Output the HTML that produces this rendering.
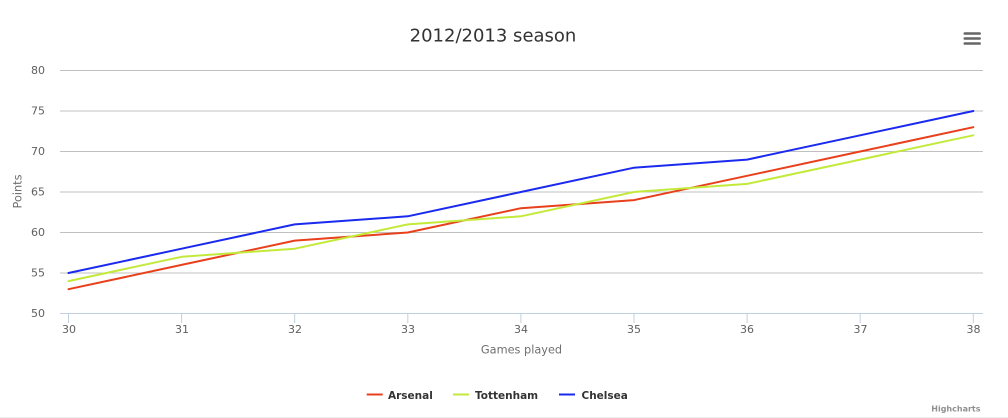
<!DOCTYPE html>
<html>
<head>
<meta charset="utf-8">
<style>
html,body{margin:0;padding:0;background:#fff;}
svg{display:block;}
text{font-family:"DejaVu Sans","Liberation Sans",sans-serif;}
</style>
</head>
<body>
<svg width="1008" height="418" viewBox="0 0 1008 418" xmlns="http://www.w3.org/2000/svg">
  <rect x="0" y="0" width="1008" height="418" fill="#ffffff"/>
  <!-- title -->
  <text x="493" y="41.5" text-anchor="middle" font-size="18" fill="#333333">2012/2013 season</text>
  <!-- menu icon -->
  <g stroke="#666666" stroke-width="2.6" stroke-linecap="round">
    <line x1="964.8" y1="33.5" x2="979.6" y2="33.5"/>
    <line x1="964.8" y1="38.5" x2="979.6" y2="38.5"/>
    <line x1="964.8" y1="43.5" x2="979.6" y2="43.5"/>
  </g>
  <!-- gridlines -->
  <g stroke="#c0c0c0" stroke-width="1">
    <line x1="60" y1="70.5" x2="983" y2="70.5"/>
    <line x1="60" y1="111" x2="983" y2="111"/>
    <line x1="60" y1="151.5" x2="983" y2="151.5"/>
    <line x1="60" y1="192" x2="983" y2="192"/>
    <line x1="60" y1="232.5" x2="983" y2="232.5"/>
    <line x1="60" y1="273" x2="983" y2="273"/>
  </g>
  <!-- x axis line -->
  <line x1="60" y1="313.5" x2="983" y2="313.5" stroke="#c0d0e0" stroke-width="1"/>
  <g stroke="#c0d0e0" stroke-width="1">
    <line x1="68.5" y1="313.5" x2="68.5" y2="323"/>
    <line x1="181.6" y1="313.5" x2="181.6" y2="323"/>
    <line x1="294.7" y1="313.5" x2="294.7" y2="323"/>
    <line x1="407.8" y1="313.5" x2="407.8" y2="323"/>
    <line x1="520.9" y1="313.5" x2="520.9" y2="323"/>
    <line x1="634" y1="313.5" x2="634" y2="323"/>
    <line x1="747.1" y1="313.5" x2="747.1" y2="323"/>
    <line x1="860.2" y1="313.5" x2="860.2" y2="323"/>
    <line x1="973.3" y1="313.5" x2="973.3" y2="323"/>
  </g>
  <!-- y labels -->
  <g font-size="11" fill="#606060" text-anchor="end">
    <text x="45" y="74">80</text>
    <text x="45" y="114.5">75</text>
    <text x="45" y="155">70</text>
    <text x="45" y="195.5">65</text>
    <text x="45" y="236">60</text>
    <text x="45" y="276.5">55</text>
    <text x="45" y="317">50</text>
  </g>
  <!-- x labels -->
  <g font-size="11" fill="#606060" text-anchor="middle">
    <text x="69" y="333">30</text>
    <text x="182" y="333">31</text>
    <text x="295" y="333">32</text>
    <text x="408" y="333">33</text>
    <text x="521" y="333">34</text>
    <text x="634" y="333">35</text>
    <text x="747" y="333">36</text>
    <text x="860.5" y="333">37</text>
    <text x="973.5" y="333">38</text>
  </g>
  <!-- axis titles -->
  <text x="521.5" y="353.5" text-anchor="middle" font-size="11.3" fill="#707070">Games played</text>
  <text transform="translate(21.5,191.5) rotate(-90)" text-anchor="middle" font-size="11.3" fill="#707070">Points</text>
  <!-- series -->
  <g fill="none" stroke-width="2" stroke-linejoin="round" stroke-linecap="round">
    <polyline stroke="#e8401c" points="68.5,289.2 181.6,264.9 294.7,240.6 407.8,232.5 520.9,208.2 634,200.1 747.1,175.8 860.2,151.5 973.3,127.2"/>
    <polyline stroke="#c3ea3a" points="68.5,281.1 181.6,256.8 294.7,248.7 407.8,224.4 520.9,216.3 634,192 747.1,183.9 860.2,159.6 973.3,135.3"/>
    <polyline stroke="#1a2aee" points="68.5,273 181.6,248.7 294.7,224.4 407.8,216.3 520.9,192 634,167.7 747.1,159.6 860.2,135.3 973.3,111"/>
  </g>
  <!-- legend -->
  <g stroke-width="2">
    <line x1="366.7" y1="394.5" x2="382.7" y2="394.5" stroke="#e8401c"/>
    <line x1="453" y1="394.5" x2="469" y2="394.5" stroke="#c3ea3a"/>
    <line x1="559" y1="394.5" x2="575" y2="394.5" stroke="#1a2aee"/>
  </g>
  <g font-size="10.5" font-weight="bold" fill="#333333">
    <text x="388" y="399">Arsenal</text>
    <text x="475" y="399">Tottenham</text>
    <text x="581.5" y="399">Chelsea</text>
  </g>
  <!-- credits -->
  <text x="980.5" y="411.5" text-anchor="end" font-size="8" font-weight="bold" fill="#909090">Highcharts</text>
  <!-- bottom border -->
  <line x1="0" y1="417.5" x2="1008" y2="417.5" stroke="#eeeeee" stroke-width="1"/>
</svg>
</body>
</html>
